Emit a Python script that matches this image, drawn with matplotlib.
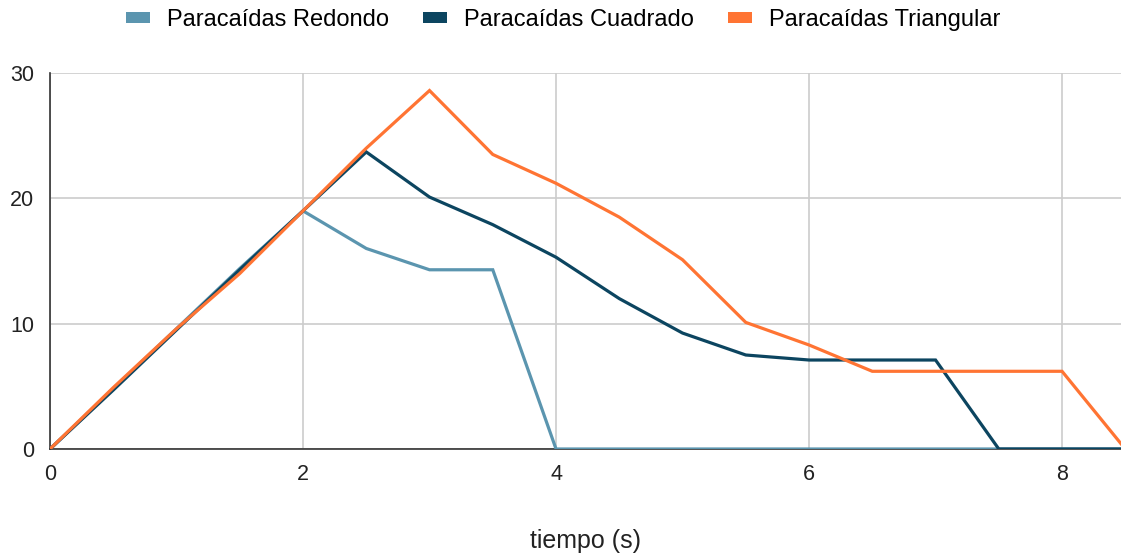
import matplotlib
matplotlib.use('Agg')
import matplotlib.pyplot as plt
from matplotlib.patches import Patch
from matplotlib import font_manager

# tiempo (s) cada medio segundo
tiempo = [0, 0.5, 1, 1.5, 2, 2.5, 3, 3.5, 4, 4.5, 5, 5.5, 6, 6.5, 7, 7.5, 8, 8.5]
redondo = [0, 4.8, 9.6, 14.4, 19.0, 16.0, 14.3, 14.3, 0, 0, 0, 0, 0, 0, 0, 0, 0, 0]
cuadrado = [0, 4.7, 9.5, 14.3, 19.0, 23.7, 20.1, 17.9, 15.3, 12.0, 9.25, 7.5, 7.1, 7.1, 7.1, 0, 0, 0]
triangular = [0, 4.9, 9.6, 14.0, 19.0, 24.0, 28.6, 23.5, 21.2, 18.5, 15.1, 10.1, 8.3, 6.2, 6.2, 6.2, 6.2, 0]

nombres = ['Paracaídas Redondo', 'Paracaídas Cuadrado', 'Paracaídas Triangular']
colores = ['#5b95af', '#0c4560', '#ff7433']

plt.rcParams['font.family'] = ['Liberation Sans', 'DejaVu Sans']

# las cifras de los ejes se ven algo estrechas
instaladas = {f.name for f in font_manager.fontManager.ttflist}
fuente_ticks = 'Liberation Sans Narrow' if 'Liberation Sans Narrow' in instaladas else 'Liberation Sans'
tam_ticks = 17 if fuente_ticks == 'Liberation Sans Narrow' else 15.5

fig = plt.figure(figsize=(11.21, 5.58), dpi=100)
ax = fig.add_axes([50 / 1121, 1 - 449 / 558, 1 - 50 / 1121, (449 - 73) / 558])

for serie, color in zip([redondo, cuadrado, triangular], colores):
    ax.plot(tiempo, serie, color=color, linewidth=2.3, solid_joinstyle='miter', zorder=3)

ax.set_xlim(0, 8.466)
ax.set_ylim(0, 30)
ax.set_xticks([0, 2, 4, 6, 8])
ax.set_yticks([0, 10, 20, 30])
ax.grid(True, color='#cccccc', linewidth=1.2, zorder=0)
ax.tick_params(length=0, labelsize=tam_ticks, colors='#222222')
ax.tick_params(axis='x', pad=10.5)
ax.tick_params(axis='y', pad=11.5)
for etiqueta in ax.get_xticklabels() + ax.get_yticklabels():
    etiqueta.set_family(fuente_ticks)
for lado in ['top', 'right']:
    ax.spines[lado].set_visible(False)
ax.spines['left'].set_color('#333333')
ax.spines['bottom'].set_color('#333333')
ax.spines['left'].set_linewidth(1.2)
ax.spines['bottom'].set_linewidth(1.2)
ax.set_xlabel('tiempo (s)', fontsize=18, color='#222222', labelpad=32)

handles = [Patch(facecolor=c, edgecolor='none') for c in colores]
fig.legend(handles, nombres, loc='center', bbox_to_anchor=(563 / 1121, 1 - 20 / 558),
           ncol=3, frameon=False, fontsize=17, handlelength=1.02, handleheight=0.34,
           handletextpad=0.72, columnspacing=1.44, borderpad=0)

fig.savefig('out.png', dpi=100)
